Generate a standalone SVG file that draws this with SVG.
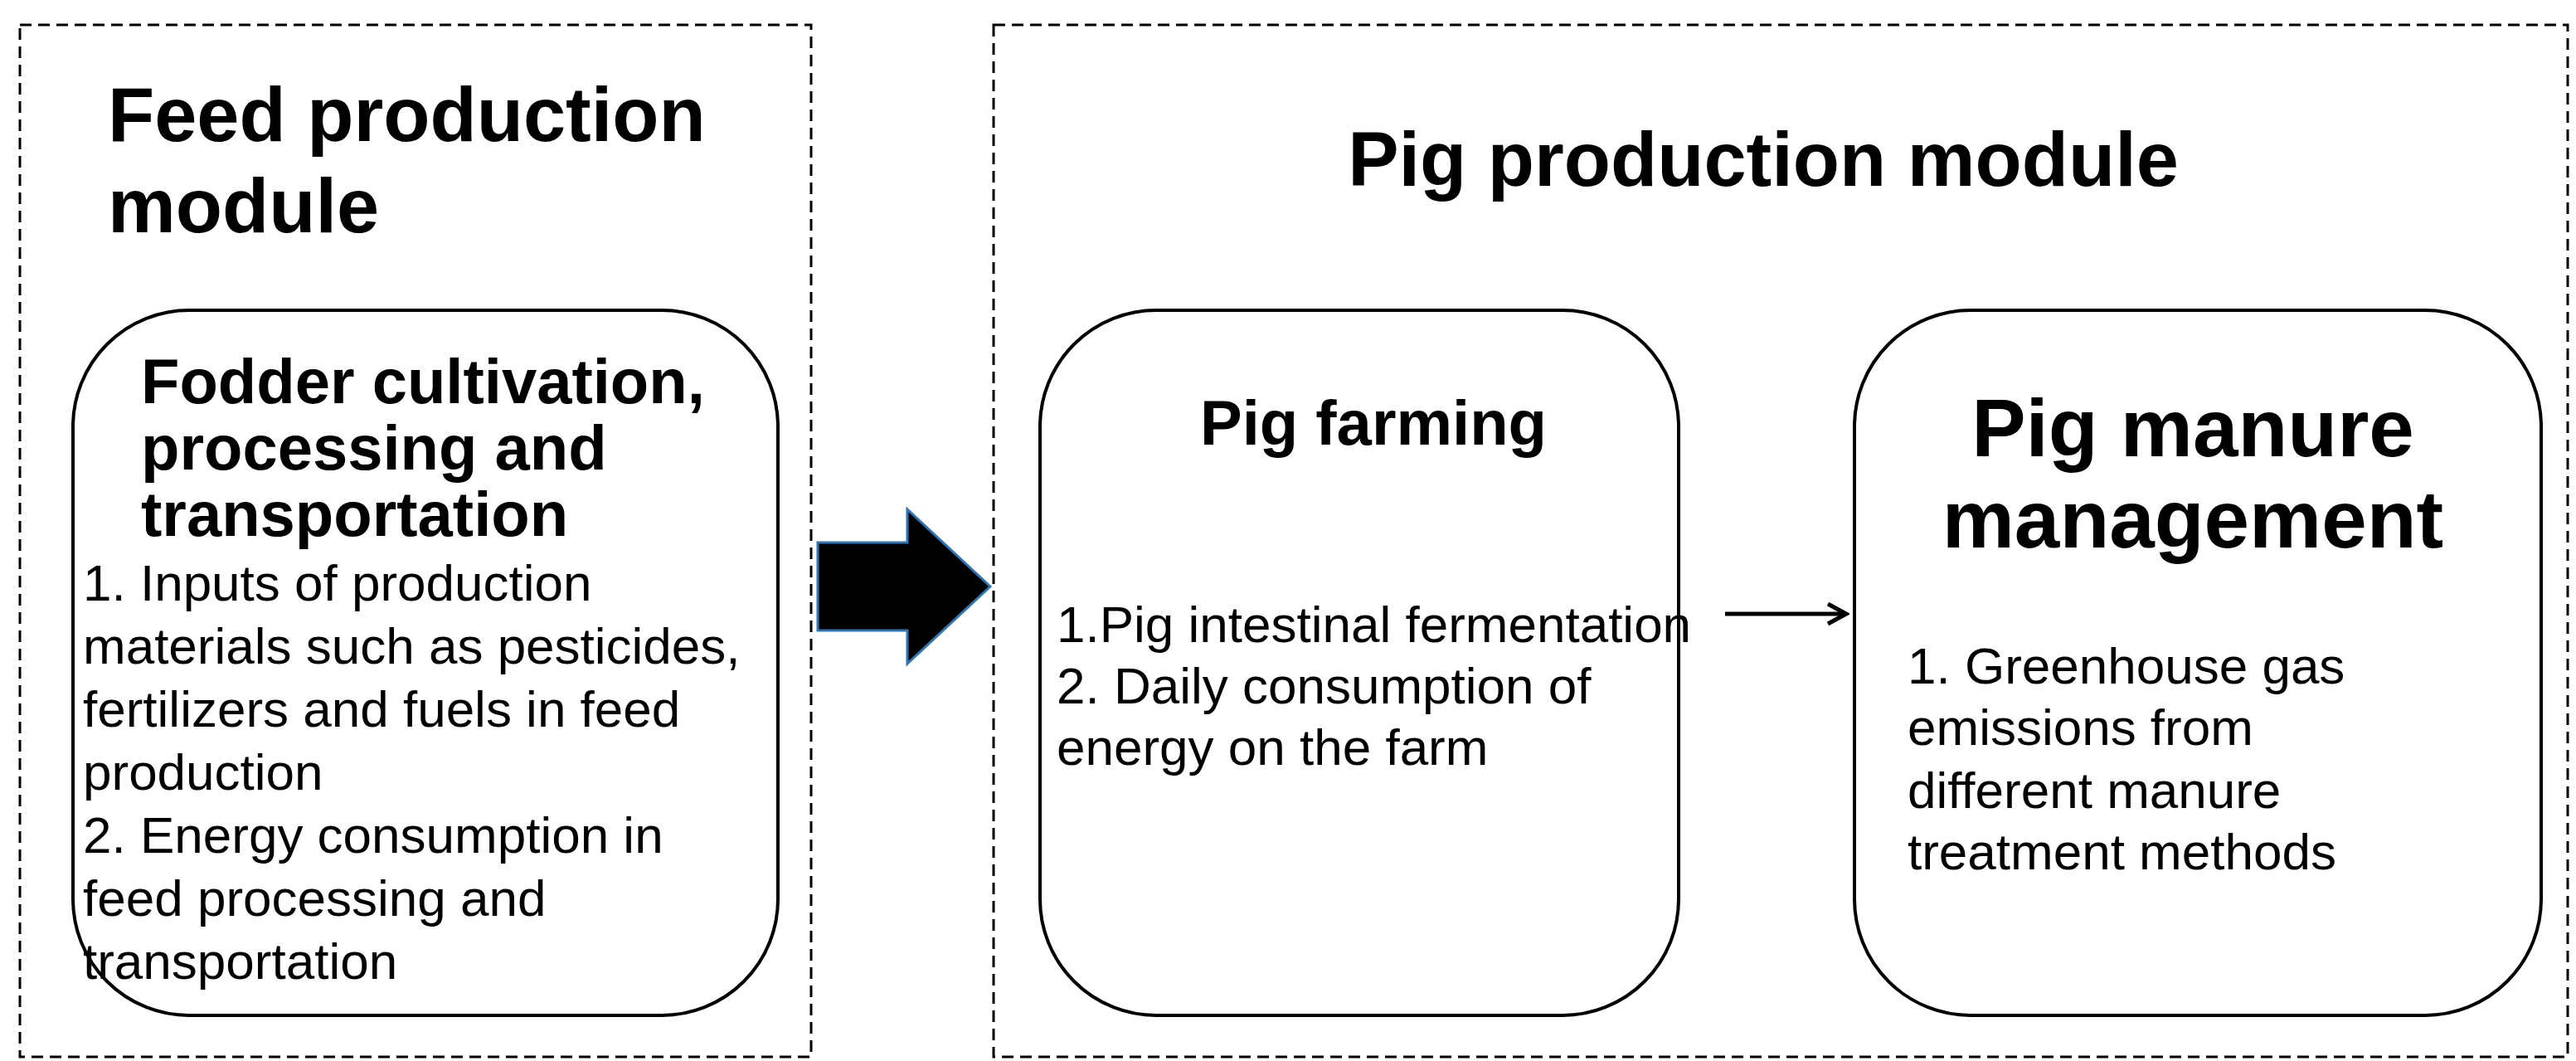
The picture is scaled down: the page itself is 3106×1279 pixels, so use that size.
<svg xmlns="http://www.w3.org/2000/svg" width="3106" height="1279" viewBox="0 0 3106 1279">
<style>
.dash{fill:none;stroke:#000;stroke-width:3;stroke-dasharray:14 8}
.box{fill:#fff;stroke:#000;stroke-width:4}
.t{font-family:"Liberation Sans",Arial,sans-serif;fill:#000}
.h{font-weight:bold;font-size:92px}
.p{font-weight:bold;font-size:98px}
.s{font-weight:bold;font-size:76px}
.b{font-size:62px}
</style>
<defs><marker id="ah" markerWidth="30" markerHeight="30" refX="26" refY="15" orient="auto" markerUnits="userSpaceOnUse" viewBox="0 0 30 30"><path d="M4 3 L26 15 L4 27" fill="none" stroke="#000" stroke-width="5"/></marker></defs>
<rect width="3106" height="1279" fill="#fff"/>
<g id="feed-module">
<rect class="dash" x="24" y="30" width="954" height="1244"/>
<text class="t h" x="130" y="170">Feed production</text>
<text class="t h" x="130" y="280">module</text>
</g>
<g id="pig-module">
<rect class="dash" x="1198" y="30" width="1898" height="1244"/>
<text class="t h" x="2126" y="224" text-anchor="middle">Pig production module</text>
</g>
<g id="fodder">
<rect class="box" x="88" y="374" width="850" height="850" rx="140"/>
<text class="t s" x="170" y="486">Fodder cultivation,</text>
<text class="t s" x="170" y="566">processing and</text>
<text class="t s" x="170" y="646">transportation</text>
<text class="t b" x="100" y="724">1. Inputs of production</text>
<text class="t b" x="100" y="800">materials such as pesticides,</text>
<text class="t b" x="100" y="876">fertilizers and fuels in feed</text>
<text class="t b" x="100" y="952">production</text>
<text class="t b" x="100" y="1028">2. Energy consumption in</text>
<text class="t b" x="100" y="1104">feed processing and</text>
<text class="t b" x="100" y="1180">transportation</text>
</g>
<g id="farming">
<rect class="box" x="1254" y="374" width="770" height="850" rx="140"/>
<text class="t s" x="1656" y="536" text-anchor="middle">Pig farming</text>
<text class="t b" x="1274" y="774">1.Pig intestinal fermentation</text>
<text class="t b" x="1274" y="848">2. Daily consumption of</text>
<text class="t b" x="1274" y="922">energy on the farm</text>
</g>
<g id="manure">
<rect class="box" x="2236" y="374" width="828" height="850" rx="140"/>
<text class="t p" x="2644" y="550" text-anchor="middle">Pig manure</text>
<text class="t p" x="2644" y="660" text-anchor="middle">management</text>
<text class="t b" x="2300" y="824">1. Greenhouse gas</text>
<text class="t b" x="2300" y="898">emissions from</text>
<text class="t b" x="2300" y="974">different manure</text>
<text class="t b" x="2300" y="1048">treatment methods</text>
</g>
<g id="connectors">
<path d="M986 654 H1094 V614 L1194 707 L1094 800 V760 H986 Z" fill="#000" stroke="#2e75b6" stroke-width="3"/>
<line x1="2080" y1="740" x2="2226" y2="740" stroke="#000" stroke-width="5" marker-end="url(#ah)"/>
</g>
</svg>
